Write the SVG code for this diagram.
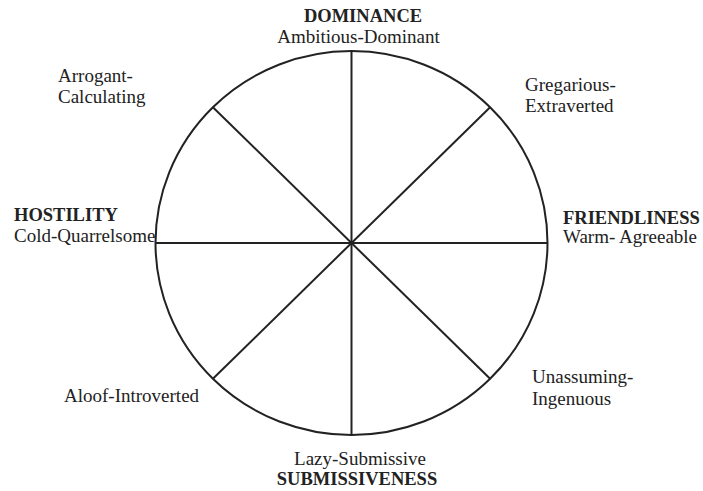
<svg xmlns="http://www.w3.org/2000/svg" width="703" height="491" viewBox="0 0 703 491">
<style>
.ln{stroke:#222;stroke-width:2;fill:none}
text{font-family:"Liberation Serif","Times New Roman",serif;font-size:19px;fill:#222}
.b{font-weight:bold;font-size:18.5px}
.m{text-anchor:middle}
</style>
<rect width="703" height="491" fill="#fff"/>
<g id="connectors">
<line class="ln" x1="351.5" y1="51" x2="351.5" y2="435"/>
<line class="ln" x1="155.5" y1="243" x2="547.5" y2="243"/>
<line class="ln" x1="212.9" y1="107.2" x2="490.1" y2="378.8"/>
<line class="ln" x1="490.1" y1="107.2" x2="212.9" y2="378.8"/>
</g>
<g id="circle"><ellipse class="ln" cx="351.5" cy="243" rx="196" ry="192"/></g>
<g id="dominance"><text class="b m" x="363" y="22">DOMINANCE</text><text class="m" x="358.5" y="43">Ambitious-Dominant</text></g>
<g id="submissiveness"><text class="m" x="360" y="465">Lazy-Submissive</text><text class="b m" x="357" y="485">SUBMISSIVENESS</text></g>
<g id="hostility"><text class="b" x="14" y="221">HOSTILITY</text><text x="14" y="242">Cold-Quarrelsome</text></g>
<g id="friendliness"><text class="b" x="563" y="224">FRIENDLINESS</text><text x="563" y="243">Warm- Agreeable</text></g>
<g id="arrogant"><text x="58" y="82">Arrogant-</text><text x="58" y="103">Calculating</text></g>
<g id="gregarious"><text x="525" y="91">Gregarious-</text><text x="525" y="112">Extraverted</text></g>
<g id="aloof"><text x="64" y="402">Aloof-Introverted</text></g>
<g id="unassuming"><text x="532" y="383">Unassuming-</text><text x="532" y="405">Ingenuous</text></g>
</svg>
